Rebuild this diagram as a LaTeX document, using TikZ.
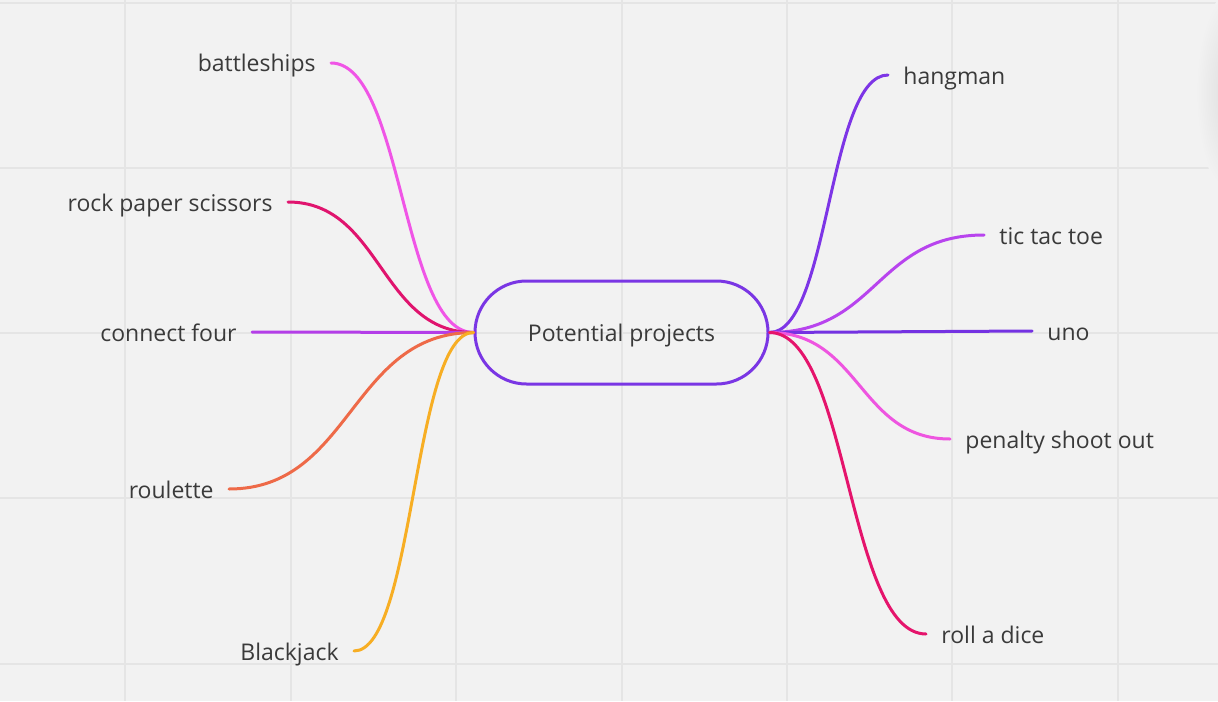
\documentclass[tikz,border=0pt]{standalone}
\usepackage{fontspec}
\setmainfont{Open Sans}
\usetikzlibrary{calc}
\definecolor{bg}{HTML}{F2F2F2}
\definecolor{gridc}{HTML}{E5E5E5}
\definecolor{txt}{HTML}{3A3A3A}
\definecolor{cmain}{HTML}{7A36E4}
\definecolor{cbattle}{HTML}{F055E6}
\definecolor{crock}{HTML}{E0146E}
\definecolor{cfour}{HTML}{B43EE8}
\definecolor{croul}{HTML}{EE6A48}
\definecolor{cblack}{HTML}{F7AE24}
\definecolor{chang}{HTML}{7D35E6}
\definecolor{ctic}{HTML}{B844EE}
\definecolor{cuno}{HTML}{7432E2}
\definecolor{cpen}{HTML}{EE55E0}
\definecolor{croll}{HTML}{E5146C}
\tikzset{
  leaf/.style={inner xsep=7.5pt, inner ysep=0pt, text height=9pt, text depth=0pt,
    text=txt, font=\fontsize{11.5}{14}\selectfont},
  leftleaf/.style={leaf, anchor=east},
  rightleaf/.style={leaf, anchor=west},
  branch/.style={line width=1.5pt, line cap=round},
  hub/.style={draw=cmain, line width=1.5pt, minimum width=146.5pt, minimum height=51.5pt,
    rounded corners=25.75pt, text=txt, text height=9pt, text depth=0pt,
    font=\fontsize{11.5}{14}\selectfont},
  gridline/.style={draw=gridc, line width=1pt}
}
\begin{document}
\begin{tikzpicture}[x=0.5pt,y=-0.5pt]
\fill[bg] (0,0) rectangle (1218,701);
\useasboundingbox (0,0) rectangle (1218,701);
% grid
\foreach \gx in {125.3,290.7,456.1,621.5,786.9,952.3,1117.7}
  \draw[gridline] (\gx,0) -- (\gx,701);
\foreach \gy in {2.8,168,333.2,498.4,663.6}
  \draw[gridline] (0,\gy) -- (1218,\gy);
% faint panel shadow at right edge
\shade[inner color=black!9!bg, outer color=bg] (1232,92) ellipse [x radius=36, y radius=100];
% hub
\node[hub] (c) at (621.5,332.5) {Potential projects};
% leaves
\node[leftleaf] (bat) at (331,63) {battleships};
\node[leftleaf] (rock) at (288,202) {rock paper scissors};
\node[leftleaf] (four) at (252,332) {connect four};
\node[leftleaf] (roul) at (229,489) {roulette};
\node[leftleaf] (black) at (354,651) {Blackjack};
\node[rightleaf] (hang) at (888,75) {hangman};
\node[rightleaf] (tic) at (984,235) {tic tac toe};
\node[rightleaf] (uno) at (1032,331) {uno};
\node[rightleaf] (pen) at (950,439) {penalty shoot out};
\node[rightleaf] (roll) at (926,634) {roll a dice};
% connectors
\draw[branch, cbattle] (c.west) .. controls ($(c.west)+(-72,0)$) and ($(bat.east)+(72,0)$) .. (bat.east);
\draw[branch, crock] (c.west) .. controls ($(c.west)+(-93.5,0)$) and ($(rock.east)+(93.5,0)$) .. (rock.east);
\draw[branch, cfour] (c.west) -- (four.east);
\draw[branch, croul] (c.west) .. controls ($(c.west)+(-123,0)$) and ($(roul.east)+(123,0)$) .. (roul.east);
\draw[branch, cblack] (c.west) .. controls ($(c.west)+(-60.5,0)$) and ($(black.east)+(60.5,0)$) .. (black.east);
\draw[branch, chang] (c.east) .. controls ($(c.east)+(60,0)$) and ($(hang.west)+(-60,0)$) .. (hang.west);
\draw[branch, ctic] (c.east) .. controls ($(c.east)+(108,0)$) and ($(tic.west)+(-108,0)$) .. (tic.west);
\draw[branch, cuno] (c.east) -- (uno.west);
\draw[branch, cpen] (c.east) .. controls ($(c.east)+(91,0)$) and ($(pen.west)+(-91,0)$) .. (pen.west);
\draw[branch, croll] (c.east) .. controls ($(c.east)+(79,0)$) and ($(roll.west)+(-79,0)$) .. (roll.west);
\end{tikzpicture}
\end{document}
